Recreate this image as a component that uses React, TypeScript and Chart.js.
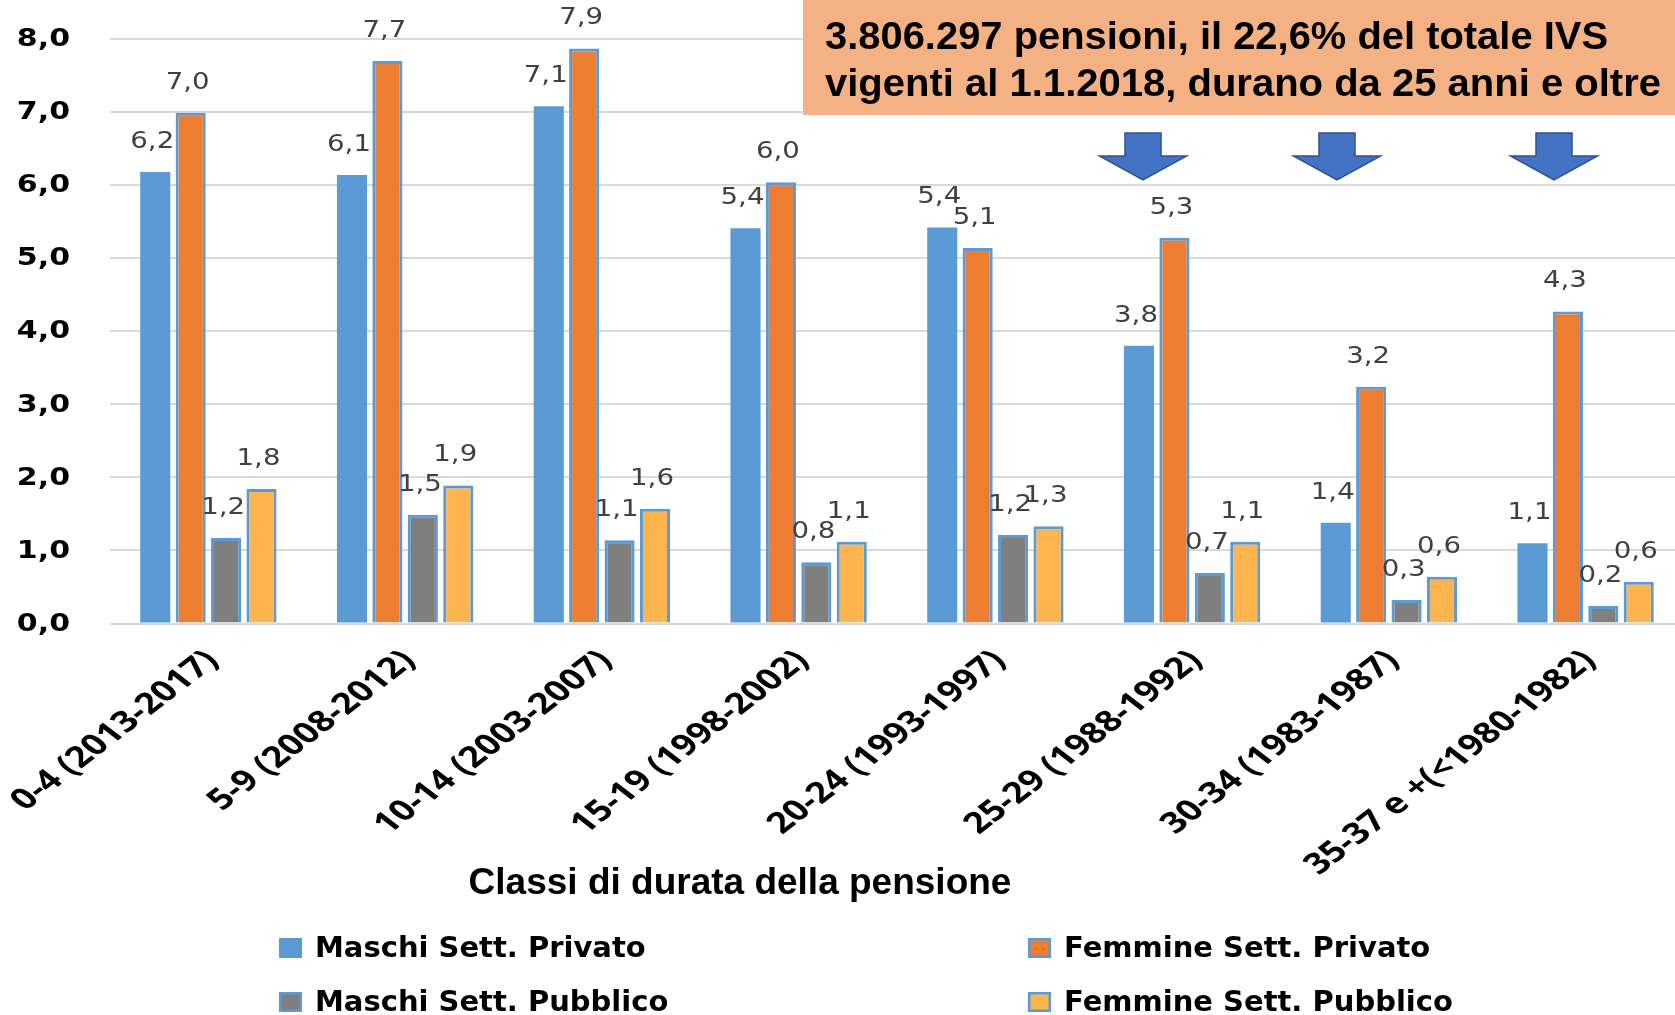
import React, { useEffect, useRef } from "react";
import { Chart, registerables } from "chart.js";

Chart.register(...registerables);

const categories = [
  "0-4 (2013-2017)",
  "5-9 (2008-2012)",
  "10-14 (2003-2007)",
  "15-19 (1998-2002)",
  "20-24 (1993-1997)",
  "25-29 (1988-1992)",
  "30-34 (1983-1987)",
  "35-37 e +(<1980-1982)",
];

const maschiPrivato = [6.18, 6.14, 7.08, 5.41, 5.42, 3.8, 1.38, 1.1];
const femminePrivato = [6.99, 7.7, 7.87, 6.04, 5.14, 5.28, 3.24, 4.27];
const maschiPubblico = [1.17, 1.49, 1.14, 0.84, 1.21, 0.69, 0.32, 0.24];
const femminePubblico = [1.84, 1.89, 1.57, 1.12, 1.33, 1.12, 0.64, 0.57];

const seriesNames = [
  "Maschi Sett. Privato",
  "Femmine Sett. Privato",
  "Maschi Sett. Pubblico",
  "Femmine Sett. Pubblico",
];

const yTickValues = [0, 1, 2, 3, 4, 5, 6, 7, 8];
const yTickLabels = ["0,0", "1,0", "2,0", "3,0", "4,0", "5,0", "6,0", "7,0", "8,0"];

const titleLines = [
  "3.806.297 pensioni, il 22,6% del totale IVS",
  "vigenti al 1.1.2018, durano da 25 anni e oltre",
];
const axisTitle = "Classi di durata della pensione";

const BLUE = "#5B9BD5";
const ORANGE = "#ED7D31";
const GRAY = "#7F7F7F";
const GOLD = "#FFB54F";

const fmt = (v: number) => v.toFixed(1).replace(".", ",");

const overlay = {
  id: "overlay",
  afterDatasetsDraw(chart: any) {
    const ctx = chart.ctx;
    ctx.save();
    ctx.fillStyle = "#404040";
    ctx.font = '23px "DejaVu Sans", Verdana, sans-serif';
    ctx.textAlign = "center";
    ctx.textBaseline = "middle";
    chart.data.datasets.forEach((ds: any, di: number) => {
      const meta = chart.getDatasetMeta(di);
      meta.data.forEach((bar: any, i: number) => {
        const v = ds.data[i];
        ctx.save();
        ctx.translate(bar.x - 3, bar.y - 30);
        ctx.scale(1.2, 1);
        ctx.fillText(fmt(v), 0, 0);
        ctx.restore();
      });
    });
    ctx.restore();
  },
  afterDraw(chart: any) {
    const ctx = chart.ctx;
    const ys = chart.scales.y;
    const xs = chart.scales.x;

    // y tick labels
    ctx.save();
    ctx.fillStyle = "#000";
    ctx.font = 'bold 24px "DejaVu Sans", Verdana, sans-serif';
    ctx.textAlign = "right";
    ctx.textBaseline = "middle";
    yTickValues.forEach((v, i) => {
      const y = ys.getPixelForValue(v);
      ctx.save();
      ctx.translate(70, y + 1);
      ctx.scale(1.25, 1);
      ctx.fillText(yTickLabels[i], 0, 0);
      ctx.restore();
    });
    ctx.restore();

    // x tick labels (rotated)
    ctx.save();
    ctx.fillStyle = "#000";
    ctx.font = 'bold 29px "Open Sans", Lato, sans-serif';
    ctx.textAlign = "right";
    ctx.textBaseline = "middle";
    categories.forEach((c, i) => {
      const x = xs.getPixelForValue(i);
      ctx.save();
      ctx.translate(x + 4, 656);
      ctx.scale(1.3, 1);
      ctx.rotate(-Math.PI / 4);
      ctx.fillText(c, 0, 0);
      ctx.restore();
    });
    ctx.restore();

    // axis title
    ctx.save();
    ctx.fillStyle = "#000";
    ctx.font = 'bold 37px "Liberation Sans", Arial, sans-serif';
    ctx.textAlign = "center";
    ctx.textBaseline = "alphabetic";
    ctx.fillText(axisTitle, 740, 894);
    ctx.restore();

    // title box
    ctx.save();
    ctx.fillStyle = "#F4B183";
    ctx.fillRect(803, 0, 900, 115);
    ctx.fillStyle = "#000";
    ctx.font = 'bold 38px "Liberation Sans", Arial, sans-serif';
    ctx.textAlign = "left";
    ctx.textBaseline = "alphabetic";
    const targets = [783, 836];
    const baselines = [49, 96];
    titleLines.forEach((t, i) => {
      const w = ctx.measureText(t).width;
      ctx.save();
      ctx.translate(825, baselines[i]);
      ctx.scale(targets[i] / w, 1);
      ctx.fillText(t, 0, 0);
      ctx.restore();
    });
    ctx.restore();

    // arrows
    const arrowCenters = [1143, 1337, 1554];
    ctx.save();
    ctx.fillStyle = "#4472C4";
    ctx.strokeStyle = "#2F528F";
    ctx.lineWidth = 1.5;
    arrowCenters.forEach((cx) => {
      const top = 133, neck = 156, tip = 180, bw = 18, hw = 43.5;
      ctx.beginPath();
      ctx.moveTo(cx - bw, top);
      ctx.lineTo(cx + bw, top);
      ctx.lineTo(cx + bw, neck);
      ctx.lineTo(cx + hw, neck);
      ctx.lineTo(cx, tip);
      ctx.lineTo(cx - hw, neck);
      ctx.lineTo(cx - bw, neck);
      ctx.closePath();
      ctx.fill();
      ctx.stroke();
    });
    ctx.restore();

    // legend
    const legendPos = [
      { x: 279, y: 957 },
      { x: 1028, y: 957 },
      { x: 279, y: 1011 },
      { x: 1028, y: 1011 },
    ];
    ctx.save();
    ctx.font = 'bold 29px "DejaVu Sans", Verdana, sans-serif';
    ctx.textAlign = "left";
    ctx.textBaseline = "alphabetic";
    chart.data.datasets.forEach((ds: any, i: number) => {
      const p = legendPos[i];
      ctx.fillStyle = ds.backgroundColor;
      ctx.fillRect(p.x, p.y - 19, 23, 20);
      if (ds.borderWidth > 0) {
        ctx.strokeStyle = BLUE;
        ctx.lineWidth = 2.5;
        ctx.strokeRect(p.x + 1.25, p.y - 17.75, 20.5, 17.5);
      }
      ctx.fillStyle = "#000";
      ctx.fillText(seriesNames[i], p.x + 36, p.y);
    });
    ctx.restore();
  },
};

export default function App() {
  const ref = useRef<HTMLCanvasElement>(null);
  useEffect(() => {
    document.body.style.margin = "0";
    document.body.style.overflow = "hidden";
    const canvas = ref.current!;
    const mk = (label: string, data: number[], color: string, bw: number) => ({
      label,
      data,
      backgroundColor: color,
      borderColor: BLUE,
      borderWidth: bw,
      borderSkipped: "bottom" as const,
      barPercentage: 0.85,
      categoryPercentage: 0.72,
    });
    const chart = new Chart(canvas, {
      type: "bar",
      data: {
        labels: categories,
        datasets: [
          mk(seriesNames[0], maschiPrivato, BLUE, 0),
          mk(seriesNames[1], femminePrivato, ORANGE, 3),
          mk(seriesNames[2], maschiPubblico, GRAY, 3),
          mk(seriesNames[3], femminePubblico, GOLD, 3),
        ],
      },
      options: {
        animation: false,
        responsive: false,
        devicePixelRatio: 1,
        layout: { padding: { top: 39, right: 16, left: 0, bottom: 0 } },
        plugins: {
          legend: { display: false },
          tooltip: { enabled: false },
          title: { display: false },
        },
        scales: {
          x: {
            grid: { display: false },
            border: { display: false },
            ticks: { display: false },
            afterFit: (s: any) => {
              s.height = 391.5;
            },
          },
          y: {
            min: 0,
            max: 8,
            ticks: { display: false, stepSize: 1 },
            border: { display: false },
            grid: { color: "#D9D9D9", lineWidth: 2, drawTicks: false },
            afterFit: (s: any) => {
              s.width = 110;
            },
          },
        },
      },
      plugins: [overlay],
    });
    return () => chart.destroy();
  }, []);
  return (
    <div style={{ width: 1675, height: 1015, overflow: "hidden", position: "relative", background: "#fff" }}>
      <canvas ref={ref} width={1700} height={1015} style={{ display: "block" }} />
    </div>
  );
}
